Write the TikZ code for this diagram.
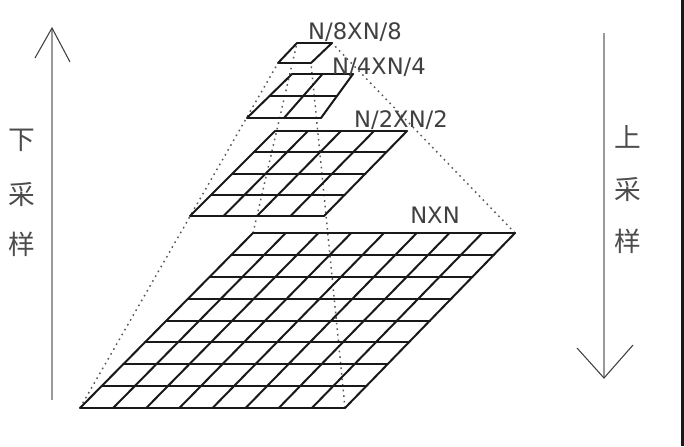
\documentclass[tikz,border=0pt]{standalone}
\usepackage{fontspec}
\usepackage{graphicx}
\usetikzlibrary{calc}
\newfontfamily\lblfont{DejaVu Sans}
\newfontfamily\cjk{Noto Sans CJK SC}
\newcommand{\layergrid}[5]{%
  \foreach \i in {0,...,#5}{%
    \pgfmathsetmacro\tt{\i/#5}%
    \draw[gridline] ($(#1)!\tt!(#4)$) -- ($(#2)!\tt!(#3)$);
    \draw[gridline] ($(#1)!\tt!(#2)$) -- ($(#4)!\tt!(#3)$);
  }}
\begin{document}
\begin{tikzpicture}[x=0.75pt,y=-0.75pt,
  gridline/.style={line width=1.5pt,black!90,line cap=round},
  pyr/.style={line width=1.1pt,black!65,dash pattern=on 1.2pt off 3pt},
  axis/.style={line width=1.5pt,black!40},
  tipline/.style={line width=0.8pt,black!75},
  lbl/.style={font=\lblfont\fontsize{17}{20}\selectfont,text=black!75,inner sep=0pt},
  cjklbl/.style={font=\cjk\fontsize{20}{24}\selectfont,text=black!70,inner sep=0pt}]
\useasboundingbox (0,0) rectangle (684,446);
\fill[white] (0,0) rectangle (684,446);
\fill[black!90] (681,0) rectangle (684,446);
% corners: A=bottom-left, B=bottom-right, C=top-right, D=top-left
\coordinate (LA) at (80,408);  \coordinate (LB) at (345,408);
\coordinate (LC) at (515,233); \coordinate (LD) at (253,233);
\coordinate (HA) at (190,216); \coordinate (HB) at (324,216);
\coordinate (HC) at (407,131); \coordinate (HD) at (275,131);
\coordinate (QA) at (247,118); \coordinate (QB) at (321,118);
\coordinate (QC) at (353,74);  \coordinate (QD) at (292,74);
\coordinate (EA) at (278,63);  \coordinate (EB) at (311,63);
\coordinate (EC) at (332,43);  \coordinate (ED) at (297,43);
% pyramid edges
\draw[pyr] (LA) -- (EA);
\draw[pyr] (LB) -- (EB);
\draw[pyr] (LC) -- (EC);
\draw[pyr] (LD) -- (ED);
% grids
\layergrid{LA}{LB}{LC}{LD}{8}
\layergrid{HA}{HB}{HC}{HD}{4}
\layergrid{QA}{QB}{QC}{QD}{2}
\layergrid{EA}{EB}{EC}{ED}{1}
% labels
\node[lbl] (t8) at (355,32) {N/8XN/8};
\node[lbl] (t4) at (379,67) {N/4XN/4};
\node[lbl] (t2) at (401,120) {N/2XN/2};
\node[lbl] (t1) at (435,215) {NXN};
% left arrow (down-sampling)
\coordinate (ls) at (52,400); \coordinate (lt) at (52,28);
\coordinate (ll) at (35,58);  \coordinate (lr) at (70,62);
\draw[axis] (ls) -- (lt);
\draw[tipline] (ll) -- (lt) -- (lr);
\node[cjklbl] (d1) at (22,140) {下};
\node[cjklbl] (d2) at (22,194) {采};
\node[cjklbl] (d3) at (22,244) {样};
% right arrow (up-sampling)
\coordinate (rs) at (604,33); \coordinate (rt) at (604,378);
\coordinate (rl) at (577,348); \coordinate (rr) at (633,345);
\draw[axis] (rs) -- (rt);
\draw[tipline] (rl) -- (rt) -- (rr);
\node[cjklbl] (u1) at (628,137) {上};
\node[cjklbl] (u2) at (628,189) {采};
\node[cjklbl] (u3) at (628,241) {样};
\end{tikzpicture}
\end{document}
